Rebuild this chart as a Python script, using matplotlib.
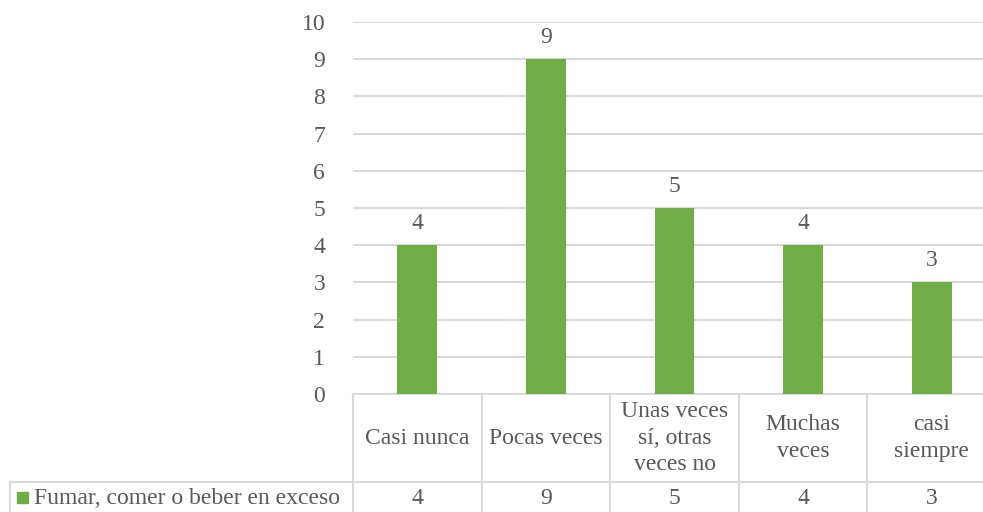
import numpy as np
import matplotlib.pyplot as plt
from matplotlib.lines import Line2D
from matplotlib.patches import Rectangle

categorias = ['Casi nunca', 'Pocas veces', 'Unas veces\nsí, otras\nveces no', 'Muchas\nveces', 'casi\nsiempre']
valores = [4, 9, 5, 4, 3]
serie = 'Fumar, comer o beber en exceso'
yticks = list(range(0, 11))

verde = '#70ad47'
gris_txt = '#595959'
gris_lin = '#d9d9d9'
fs = 17

plt.rcParams['font.family'] = ['Liberation Serif', 'DejaVu Serif']

W, H = 983, 512
fig = plt.figure(figsize=(W / 100, H / 100), dpi=100)

def fx(px):
    return px / W

def fy(py):
    return (H - py) / H

# area del grafico (pixeles); el borde derecho queda fuera de la imagen
ncol = len(valores)
colw = 128.6
x0 = 353
x1 = x0 + ncol * colw
y0, y1 = 394, 22
ax = fig.add_axes([fx(x0), fy(y0), fx(x1) - fx(x0), fy(y1) - fy(y0)])

x = np.arange(ncol)
ax.bar(x, valores, width=0.31, color=verde, zorder=3)
for xi, v in zip(x, valores):
    ax.annotate(str(v), (xi, v), xytext=(0, 8), textcoords='offset points',
                ha='center', va='bottom', fontsize=fs, color=gris_txt)

ax.set_xlim(-0.5, ncol - 0.5)
ax.set_ylim(0, 10)
ax.set_yticks(yticks)
ax.set_yticklabels([str(t) for t in yticks], fontsize=fs, color=gris_txt)
ax.tick_params(axis='y', length=0, pad=20)
ax.set_xticks([])
ax.grid(axis='y', color=gris_lin, lw=1.5, zorder=0)
for s in ['top', 'right', 'left']:
    ax.spines[s].set_visible(False)
ax.spines['bottom'].set_color(gris_lin)
ax.spines['bottom'].set_linewidth(1.5)

# tabla de datos bajo el eje
r1, r2, r3 = 394, 482, 513
lw = 1.5

def linea(xa, ya, xb, yb):
    fig.add_artist(Line2D([fx(xa), fx(xb)], [fy(ya), fy(yb)], color=gris_lin, lw=lw))

for i in range(ncol + 1):
    xc = x0 + i * colw
    linea(xc, r1, xc, r3)
linea(x0, r2, x1, r2)
linea(10, r2, x0, r2)
linea(10, r2, 10, r3)

for i, (cat, v) in enumerate(zip(categorias, valores)):
    xc = x0 + (i + 0.5) * colw
    fig.text(fx(xc), fy((r1 + r2) / 2), cat, ha='center', va='center',
             fontsize=fs, color=gris_txt, linespacing=1.33)
    fig.text(fx(xc), fy(499), str(v), ha='center', va='center',
             fontsize=fs, color=gris_txt)

# leyenda en la tabla
fig.add_artist(Rectangle((fx(17), fy(503)), fx(11), fy(492) - fy(503),
                         color=verde, transform=fig.transFigure))
fig.text(fx(34), fy(499), serie, ha='left', va='center', fontsize=fs, color=gris_txt)

fig.savefig('out.png', dpi=100)
